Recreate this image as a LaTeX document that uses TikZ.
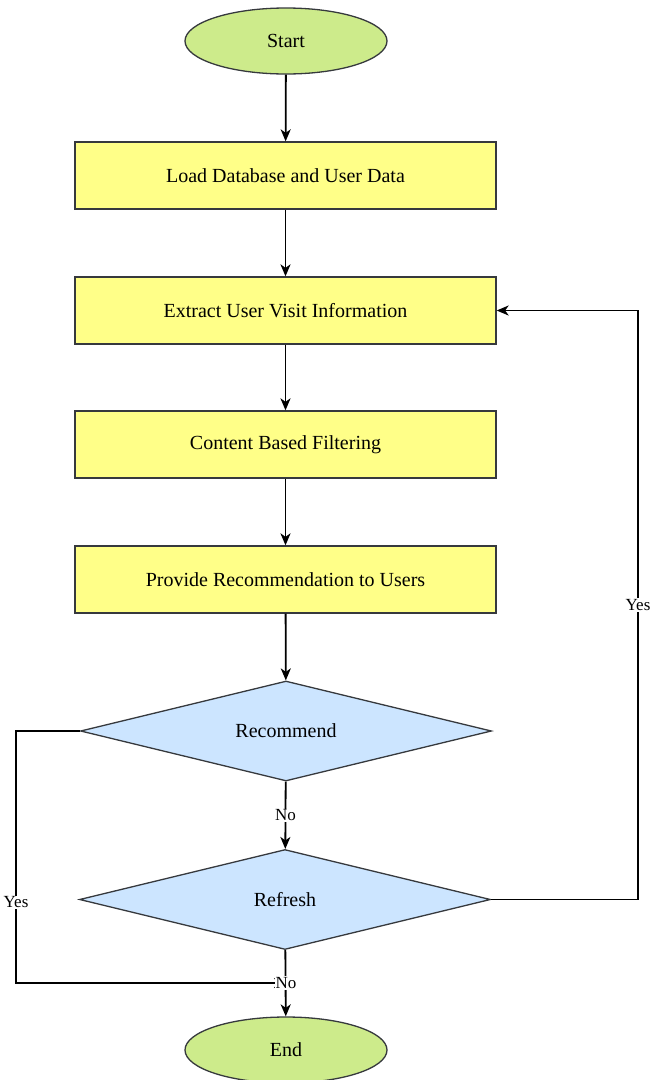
\documentclass[tikz,border=0pt]{standalone}
\usepackage{fontspec}
\setmainfont{Liberation Serif}
\usetikzlibrary{shapes.geometric,arrows.meta}
\definecolor{termfill}{HTML}{CDEB8B}
\definecolor{procfill}{HTML}{FFFF88}
\definecolor{decfill}{HTML}{CCE5FF}
\definecolor{edge}{HTML}{36393D}
\begin{document}
\begin{tikzpicture}[x=1pt,y=-1pt,
  every node/.style={font=\fontsize{20}{23}\selectfont},
  term/.style={ellipse,draw=edge,fill=termfill,line width=1.3pt,minimum width=202pt,minimum height=66pt,inner sep=0pt},
  proc/.style={rectangle,draw=edge,fill=procfill,line width=1.3pt,minimum width=421pt,minimum height=67pt,inner sep=0pt},
  dec/.style={diamond,shape aspect=4.1,draw=edge,fill=decfill,line width=1.3pt,minimum width=411pt,minimum height=100pt,inner sep=0pt},
  conn/.style={draw=black,line width=1.8pt,-{Stealth[length=12pt,width=10pt,inset=3.5pt]}},
  lbl/.style={fill=white,inner sep=1pt,font=\fontsize{17}{19}\selectfont}]
\useasboundingbox (0,0) rectangle (651,1080);
\node[term] (start) at (286,41) {Start};
\node[proc] (load) at (285.5,175.5) {Load Database and User Data};
\node[proc] (extract) at (285.5,310.5) {Extract User Visit Information};
\node[proc] (cbf) at (285.5,444.5) {Content Based Filtering};
\node[proc] (prov) at (285.5,579.5) {Provide Recommendation to Users};
\node[dec] (rec) at (286,731) {Recommend};
\node[dec] (ref) at (285,899.5) {Refresh};
\node[term] (end) at (286,1050) {End};
\coordinate (join) at (286,983);
\coordinate (lx) at (16,731);
\coordinate (rx) at (638,899.5);

\draw[conn] (start) -- (load);
\draw[conn] (load) -- (extract);
\draw[conn] (extract) -- (cbf);
\draw[conn] (cbf) -- (prov);
\draw[conn] (prov) -- (rec);
\draw[conn] (rec) -- node[lbl] {No} (ref);
\draw[conn] (rec.west) -- (lx) |- node[lbl,pos=0.34] {Yes} (join);
\draw[conn] (ref.east) -- (rx) |- node[lbl,pos=0.25] {Yes} (extract.east);
\draw[conn] (ref) -- (end);
\node[lbl] (no2) at (join) {No};
\end{tikzpicture}
\end{document}
